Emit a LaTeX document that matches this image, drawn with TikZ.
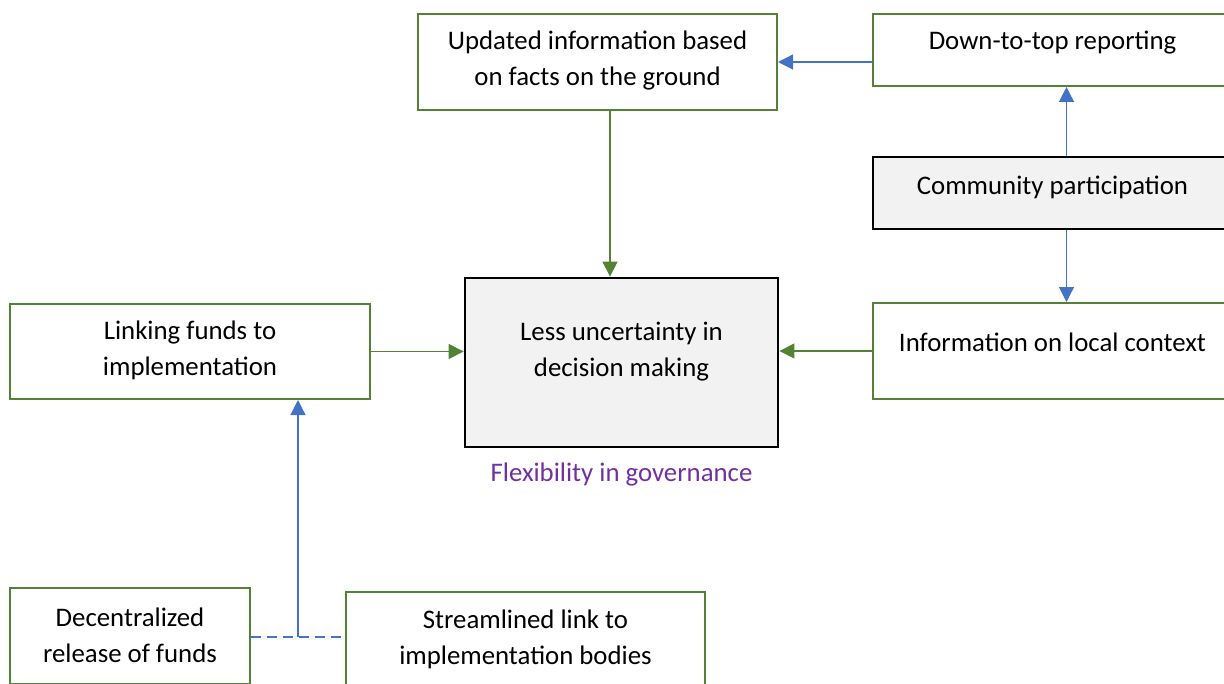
\documentclass[tikz,border=0pt]{standalone}
\usepackage{fontspec}
\setmainfont{Carlito}
\usetikzlibrary{arrows.meta,positioning,calc}
\definecolor{boxgreen}{HTML}{548235}
\definecolor{linkblue}{HTML}{4472C4}
\definecolor{flexpurple}{HTML}{7030A0}
\definecolor{boxgray}{HTML}{F2F2F2}
\tikzset{
gbox/.style={draw=boxgreen, line width=1pt, minimum width=179.5pt, minimum height=48pt, inner sep=0pt},
kbox/.style={draw=black, line width=1.4pt, fill=boxgray, inner sep=0pt},
boxtext/.style={align=center, inner sep=0pt, font=\fontsize{13.4}{18}\selectfont},
garrow/.style={-{Triangle[length=7.5pt,width=7.5pt]}, draw=boxgreen, fill=boxgreen, line width=0.6pt},
barrow/.style={-{Triangle[length=7.5pt,width=7.5pt]}, draw=linkblue, fill=linkblue, line width=0.6pt},
bdash/.style={draw=linkblue, line width=1.4pt, dash pattern=on 5pt off 3pt}
}
\begin{document}
\begin{tikzpicture}[x=0.5pt,y=-0.5pt]
\clip (0,0) rectangle (1224,684);

% boxes
\node[gbox, minimum height=48pt] (updated) at (597.5,62) {};
\node[gbox, minimum height=36pt] (reporting) at (1052.5,50) {};
\node[kbox, minimum width=179.5pt, minimum height=36pt] (community) at (1052.5,193) {};
\node[gbox, minimum height=48pt] (localinfo) at (1052.5,351) {};
\node[kbox, minimum width=156.5pt, minimum height=84.5pt] (decision) at (621.5,362.5) {};
\node[gbox, minimum width=180pt, minimum height=47.5pt] (linking) at (190,351.5) {};
\node[gbox, minimum width=120pt] (release) at (130,636) {};
\node[gbox] (streamlined) at (525.5,640) {};

% texts
\node[boxtext] (updated-t) at (597.5,61) {Updated information based\\on facts on the ground};
\node[boxtext] (reporting-t) at (1052.5,43) {Down-to-top reporting};
\node[boxtext] (community-t) at (1052.5,187) {Community participation};
\node[boxtext] (localinfo-t) at (1052.5,342) {Information on local context};
\node[boxtext] (decision-t) at (621.5,352) {Less uncertainty in\\decision making};
\node[boxtext, text=flexpurple] (flex) at (621.5,474) {Flexibility in governance};
\node[boxtext] (linking-t) at (190,350) {Linking funds to\\implementation};
\node[boxtext] (release-t) at (130,635.5) {Decentralized\\release of funds};
\node[boxtext] (streamlined-t) at (525.5,639) {Streamlined link to\\implementation bodies};

% connectors
\draw[barrow] (reporting.west |- updated.east) -- (updated.east);
\draw[barrow] ([xshift=7pt]community.north) -- ([xshift=7pt]reporting.south);
\draw[barrow] ([xshift=7pt]community.south) -- ([xshift=7pt]localinfo.north);
\draw[garrow] ([xshift=6.25pt]updated.south) -- ([xshift=6.25pt]updated.south |- decision.north);
\draw[garrow] (linking.east) -- (linking.east -| decision.west);
\draw[garrow] (localinfo.west) -- (localinfo.west -| decision.east);

\coordinate (split) at (298,637);
\draw[bdash] (release.east |- split) -- (streamlined.west |- split);
\draw[barrow] (split) -- (split |- linking.south);
\end{tikzpicture}
\end{document}
